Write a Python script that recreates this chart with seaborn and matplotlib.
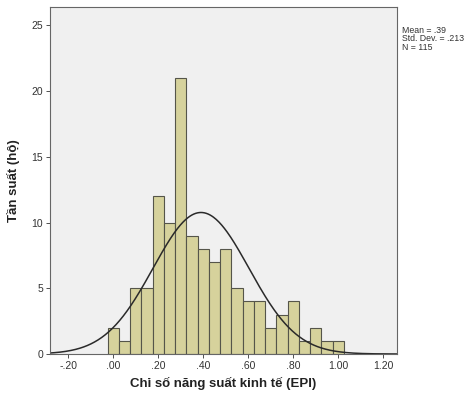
import numpy as np
import pandas as pd
import matplotlib
matplotlib.use("Agg")
import matplotlib.pyplot as plt
import seaborn as sns

bin_centers = [0.00, 0.05, 0.10, 0.15, 0.20, 0.25, 0.30, 0.35, 0.40, 0.45, 0.50,
               0.55, 0.60, 0.65, 0.70, 0.75, 0.80, 0.85, 0.90, 0.95, 1.00]
counts = [2, 1, 5, 5, 12, 10, 21, 9, 8, 7, 8, 5, 4, 4, 2, 3, 4, 1, 2, 1, 1]
mean_val = 0.39
std_val = 0.213
n_val = 115
x_ticks = [-0.20, 0.00, 0.20, 0.40, 0.60, 0.80, 1.00, 1.20]
x_tick_labels = ["-.20", ".00", ".20", ".40", ".60", ".80", "1.00", "1.20"]
y_ticks = [0, 5, 10, 15, 20, 25]
x_label = "Chỉ số năng suất kinh tế (EPI)"
y_label = "Tần suất (hộ)"

sns.set_style("white")
plt.rcParams['font.family'] = ['Liberation Sans', 'DejaVu Sans']

fig = plt.figure(figsize=(4.69, 3.94), dpi=100)
ax = fig.add_axes([0.1066, 0.1015, 0.7399, 0.8805])
ax.set_facecolor("#f0f0f0")

df = pd.DataFrame({"x": bin_centers, "w": counts})
sns.histplot(data=df, x="x", weights="w", binwidth=0.05, binrange=(-0.025, 1.025),
             color="#d6d29c", alpha=1.0, edgecolor="#55554a", linewidth=0.8, ax=ax)

xs = np.linspace(-0.3, 1.3, 400)
bw = 0.05
ys = n_val * bw / (std_val * np.sqrt(2 * np.pi)) * np.exp(-0.5 * ((xs - mean_val) / std_val) ** 2)
sns.lineplot(x=xs, y=ys, color="#2a2a2a", linewidth=1.1, ax=ax)

ax.set_xlim(-0.281, 1.261)
ax.set_ylim(0, 26.4)
ax.set_xticks(x_ticks)
ax.set_xticklabels(x_tick_labels)
ax.set_yticks(y_ticks)
ax.tick_params(axis="both", direction="out", length=3, width=0.6, labelsize=7.5,
               colors="#333333", bottom=True, left=True, pad=2)
for s in ax.spines.values():
    s.set_visible(True)
    s.set_color("#666666")
    s.set_linewidth(0.8)

ax.set_xlabel(x_label, fontsize=9.5, fontweight="bold", color="#222222", labelpad=4)
ax.set_ylabel(y_label, fontsize=9.5, fontweight="bold", color="#222222", labelpad=8)

fig.text(0.857, 0.935, f"Mean = .39\nStd. Dev. = .213\nN = {n_val}",
         fontsize=6.3, color="#333333", va="top", ha="left", linespacing=0.95)

fig.savefig("out.png", dpi=100, facecolor="white")
